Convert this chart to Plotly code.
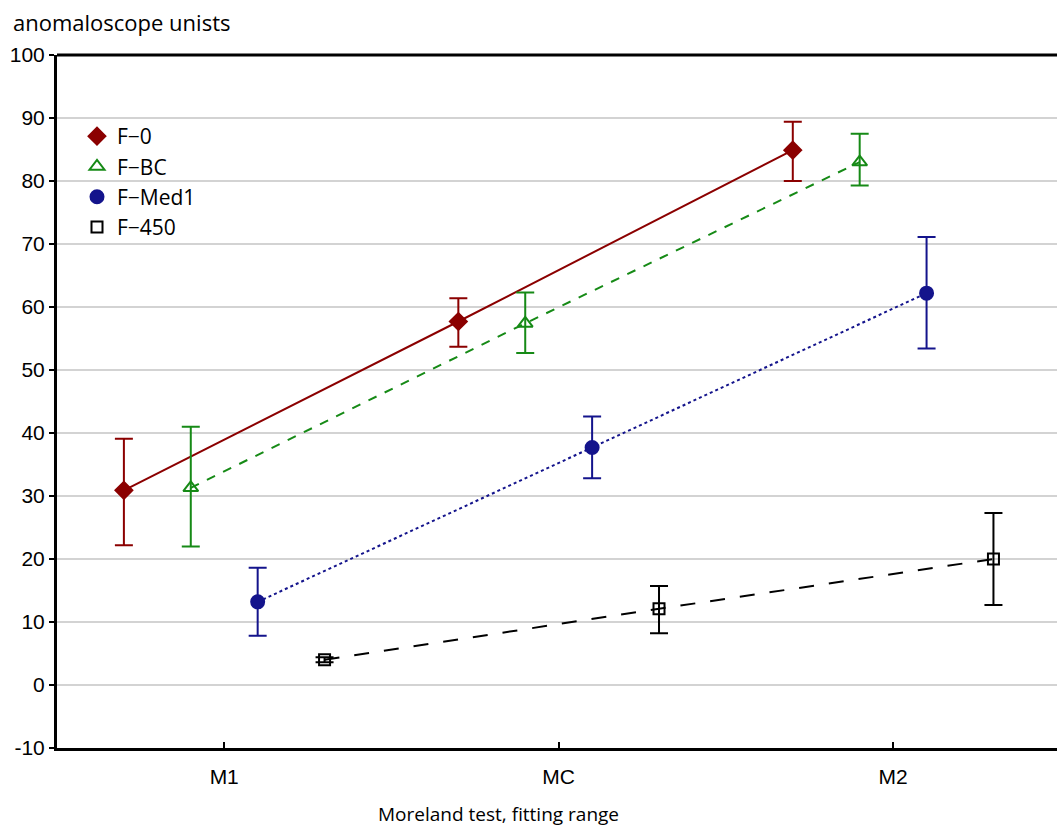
import plotly.graph_objects as go

categories = ["M1", "MC", "M2"]
series_names = ["F\u22120", "F\u2212BC", "F\u2212Med1", "F\u2212450"]
means = {
    "F\u22120":    [30.9, 57.7, 84.9],
    "F\u2212BC":   [31.3, 57.4, 83.0],
    "F\u2212Med1": [13.2, 37.7, 62.2],
    "F\u2212450":  [4.0, 12.1, 20.0],
}
upper = {
    "F\u22120":    [39.1, 61.4, 89.4],
    "F\u2212BC":   [41.0, 62.3, 87.5],
    "F\u2212Med1": [18.6, 42.6, 71.1],
    "F\u2212450":  [4.4, 15.7, 27.3],
}
lower = {
    "F\u22120":    [22.2, 53.7, 80.0],
    "F\u2212BC":   [22.0, 52.7, 79.3],
    "F\u2212Med1": [7.8, 32.8, 53.4],
    "F\u2212450":  [3.6, 8.2, 12.7],
}
y_ticks = list(range(-10, 101, 10))
y_tick_labels = [str(v) for v in y_ticks]

offsets = [-0.3, -0.1, 0.1, 0.3]
colors = ["#8b0000", "#168a16", "#14148c", "#000000"]
dashes = ["solid", "dash", "dot", "longdash"]
symbols = ["diamond", "triangle-up-open", "circle", "square-open"]
msizes = [13, 13, 13, 11]

fig = go.Figure()
for i, name in enumerate(series_names):
    xs = [j + offsets[i] for j in range(len(categories))]
    m = means[name]
    fig.add_trace(go.Scatter(
        x=xs, y=m, name=name, mode="lines+markers", showlegend=False,
        line=dict(color=colors[i], dash=dashes[i], width=2),
        marker=dict(symbol=symbols[i], size=msizes[i], color=colors[i],
                    line=dict(color=colors[i], width=2)),
        error_y=dict(type="data", symmetric=False,
                     array=[u - v for u, v in zip(upper[name], m)],
                     arrayminus=[v - l for v, l in zip(m, lower[name])],
                     color=colors[i], thickness=2, width=9),
    ))
# legend entries (markers only, as in the original legend)
for i, name in enumerate(series_names):
    fig.add_trace(go.Scatter(
        x=[None], y=[None], name=name, mode="markers", showlegend=True,
        marker=dict(symbol=symbols[i], size=msizes[i], color=colors[i],
                    line=dict(color=colors[i], width=2)),
    ))

fig.update_layout(
    width=1057, height=829,
    margin=dict(l=57, r=0, t=55, b=81),
    plot_bgcolor="white", paper_bgcolor="white",
    font=dict(family="Liberation Sans", size=20, color="black"),
    showlegend=True,
    legend=dict(x=0.02, y=0.912, xanchor="left", yanchor="top",
                bgcolor="rgba(0,0,0,0)", font=dict(family="Open Sans", size=21),
                tracegroupgap=0, itemwidth=30),
)
fig.add_annotation(text="anomaloscope unists", xref="paper", yref="paper",
                   x=-0.046, y=1.0 + 33 / 693, xanchor="left", yanchor="middle",
                   showarrow=False, font=dict(family="Open Sans", size=22))
fig.add_annotation(text="Moreland test, fitting range", xref="paper", yref="paper",
                   x=0.441, y=-66 / 693, xanchor="center", yanchor="middle",
                   showarrow=False, font=dict(family="Open Sans", size=19))

fig.update_xaxes(
    range=[-0.5, 2.49], tickvals=[0, 1, 2], ticktext=categories,
    showgrid=False, zeroline=False,
    showline=True, linecolor="black", linewidth=3, mirror=False,
    ticks="inside", ticklen=6, tickwidth=2, tickcolor="black",
    tickfont=dict(family="Liberation Sans", size=21), ticklabelstandoff=8,
)
fig.update_yaxes(
    range=[-10, 100], tickvals=y_ticks, ticktext=y_tick_labels,
    showgrid=True, gridcolor="#d3d3d3", gridwidth=2, zeroline=False,
    showline=True, linecolor="black", linewidth=3,
    ticks="outside", ticklen=5, tickwidth=2, tickcolor="black",
    tickfont=dict(family="Liberation Sans", size=21),
)
# top border
fig.add_shape(type="line", xref="paper", yref="paper", x0=0, x1=1, y0=1, y1=1,
              line=dict(color="black", width=3))

fig.write_html("out.html")
